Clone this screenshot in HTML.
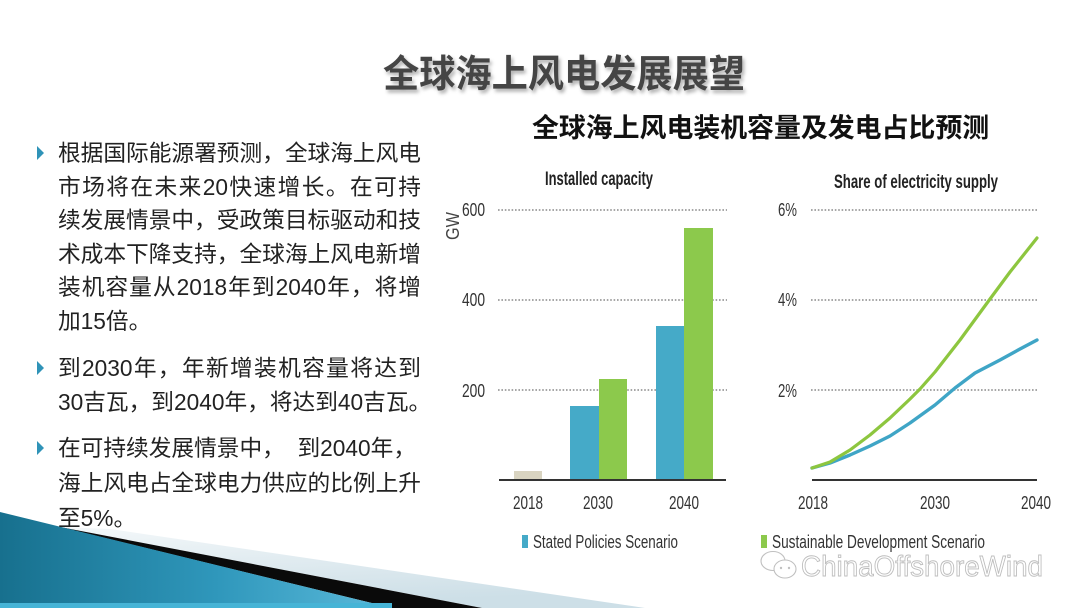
<!DOCTYPE html>
<html>
<head>
<meta charset="utf-8">
<style>
  html,body{margin:0;padding:0;background:#fff;}
  #wrap{position:relative;width:1080px;height:608px;overflow:hidden;background:#fff;}
  svg{position:absolute;left:0;top:0;}
  .sub{position:absolute;left:532px;top:111px;font-family:"Liberation Sans","Noto Sans CJK SC",sans-serif;font-weight:bold;font-size:26.9px;line-height:34px;color:#111;white-space:nowrap;}
  .ln{position:absolute;left:58px;font-family:"Liberation Sans","Noto Sans CJK SC",sans-serif;font-size:22.7px;line-height:34px;height:34px;color:#222;white-space:nowrap;}
  .j{width:363px;text-align:justify;text-align-last:justify;}
  .tri{position:absolute;left:37px;width:0;height:0;border-top:7px solid transparent;border-bottom:7px solid transparent;border-left:7px solid #2f93b8;}
</style>
</head>
<body>
<div id="wrap">
<svg width="1080" height="608" viewBox="0 0 1080 608" xmlns="http://www.w3.org/2000/svg">
  <defs>
    <linearGradient id="teal" x1="0" y1="0" x2="1" y2="0">
      <stop offset="0" stop-color="#17708e"/>
      <stop offset="0.55" stop-color="#2f97bb"/>
      <stop offset="1" stop-color="#5bbadb"/>
    </linearGradient>
    <linearGradient id="fade" x1="0" y1="0" x2="0.3" y2="1">
      <stop offset="0" stop-color="#f4f8fa"/>
      <stop offset="0.5" stop-color="#e0ebf0"/>
      <stop offset="1" stop-color="#cddfe7"/>
    </linearGradient>
    <filter id="sh" x="-10%" y="-30%" width="120%" height="160%">
      <feDropShadow dx="2" dy="3" stdDeviation="1.8" flood-color="#000" flood-opacity="0.3"/>
    </filter>
  </defs>

  <!-- main title -->
  <text x="383" y="87" font-family="'Liberation Sans','Noto Sans CJK SC',sans-serif" font-weight="bold" font-size="38" fill="#444" textLength="362" lengthAdjust="spacingAndGlyphs" filter="url(#sh)">全球海上风电发展展望</text>

  <!-- bottom-left decoration -->
  <polygon points="110,529 645,608 482,608 60,527" fill="url(#fade)"/>
  <polygon points="60,527 482,608 392,608" fill="#0a0a0a"/>
  <polygon points="0,512 392,608 0,608" fill="url(#teal)"/>
  <rect x="0" y="603" width="392" height="5" fill="#46b4d6"/>

  <!-- ===== Bar chart ===== -->
  <g font-family="'Liberation Sans Narrow','Liberation Sans',sans-serif">
    <text x="599" y="185" font-size="19" font-weight="bold" fill="#222" text-anchor="middle" textLength="108" lengthAdjust="spacingAndGlyphs">Installed capacity</text>
    <text transform="translate(459,226) rotate(-90)" font-size="18" fill="#444" text-anchor="middle" textLength="28" lengthAdjust="spacingAndGlyphs">GW</text>
    <g stroke="#8a8a8a" stroke-width="1.6" stroke-dasharray="1.6 1.8">
      <line x1="498" y1="210" x2="727" y2="210"/>
      <line x1="498" y1="300" x2="727" y2="300"/>
      <line x1="498" y1="390" x2="727" y2="390"/>
    </g>
    <g font-size="18" fill="#333" text-anchor="end">
      <text x="485" y="216" textLength="23" lengthAdjust="spacingAndGlyphs">600</text>
      <text x="485" y="306" textLength="23" lengthAdjust="spacingAndGlyphs">400</text>
      <text x="485" y="397" textLength="23" lengthAdjust="spacingAndGlyphs">200</text>
    </g>
    <rect x="514" y="471" width="28" height="9" fill="#d9d4c1"/>
    <rect x="570" y="406" width="29" height="74" fill="#45aac8"/>
    <rect x="599" y="379" width="28" height="101" fill="#8cc94c"/>
    <rect x="656" y="326" width="28" height="154" fill="#45aac8"/>
    <rect x="684" y="228" width="29" height="252" fill="#8cc94c"/>
    <line x1="499" y1="480" x2="726" y2="480" stroke="#333" stroke-width="2"/>
    <g font-size="18" fill="#333" text-anchor="middle">
      <text x="528" y="509" textLength="30" lengthAdjust="spacingAndGlyphs">2018</text>
      <text x="598" y="509" textLength="30" lengthAdjust="spacingAndGlyphs">2030</text>
      <text x="684" y="509" textLength="30" lengthAdjust="spacingAndGlyphs">2040</text>
    </g>
    <rect x="522" y="535" width="6" height="13" fill="#45aac8"/>
    <text x="533" y="548" font-size="18" fill="#333" textLength="145" lengthAdjust="spacingAndGlyphs">Stated Policies Scenario</text>
  </g>

  <!-- ===== Line chart ===== -->
  <g font-family="'Liberation Sans Narrow','Liberation Sans',sans-serif">
    <text x="916" y="188" font-size="19" font-weight="bold" fill="#222" text-anchor="middle" textLength="164" lengthAdjust="spacingAndGlyphs">Share of electricity supply</text>
    <g stroke="#8a8a8a" stroke-width="1.6" stroke-dasharray="1.6 1.8">
      <line x1="811" y1="210" x2="1037" y2="210"/>
      <line x1="811" y1="300" x2="1037" y2="300"/>
      <line x1="811" y1="390" x2="1037" y2="390"/>
    </g>
    <g font-size="18" fill="#333" text-anchor="end">
      <text x="797" y="216" textLength="19" lengthAdjust="spacingAndGlyphs">6%</text>
      <text x="797" y="306" textLength="19" lengthAdjust="spacingAndGlyphs">4%</text>
      <text x="797" y="397" textLength="19" lengthAdjust="spacingAndGlyphs">2%</text>
    </g>
    <line x1="812" y1="480" x2="1037" y2="480" stroke="#333" stroke-width="2"/>
    <g font-size="18" fill="#333" text-anchor="middle">
      <text x="813" y="509" textLength="30" lengthAdjust="spacingAndGlyphs">2018</text>
      <text x="935" y="509" textLength="30" lengthAdjust="spacingAndGlyphs">2030</text>
      <text x="1036" y="509" textLength="30" lengthAdjust="spacingAndGlyphs">2040</text>
    </g>
    <polyline fill="none" stroke="#3fa5c6" stroke-width="3.4" stroke-linejoin="round" stroke-linecap="round"
      points="812,468 830,463 850,455 870,446 890,436 910,423 935,405 955,388 975,373 1000,360 1020,349 1037,340"/>
    <polyline fill="none" stroke="#8dc63f" stroke-width="3.2" stroke-linejoin="round" stroke-linecap="round"
      points="812,468 830,462 850,450 870,435 890,418 910,399 920,389 935,372 960,340 990,299 1010,272 1037,238"/>
    <rect x="761" y="535" width="6" height="13" fill="#8cc94c"/>
    <text x="772" y="548" font-size="18" fill="#333" textLength="213" lengthAdjust="spacingAndGlyphs">Sustainable Development Scenario</text>
  </g>

  <!-- watermark -->
  <g fill="#fff" stroke="#c0c0c0" stroke-width="1.1">
    <ellipse cx="773" cy="561" rx="12" ry="9.5"/>
    <ellipse cx="785" cy="569" rx="11" ry="9"/>
  </g>
  <g fill="#c0c0c0">
    <circle cx="781" cy="568" r="1.2"/>
    <circle cx="789" cy="568" r="1.2"/>
  </g>
  <text x="801" y="576" font-family="'Liberation Sans',sans-serif" font-size="29" fill="#fff" stroke="#bdbdbd" stroke-width="0.9" textLength="242" lengthAdjust="spacingAndGlyphs">ChinaOffshoreWind</text>
</svg>

<div class="sub">全球海上风电装机容量及发电占比预测</div>

<div class="tri" style="top:146px;"></div>
<div class="ln j" style="top:136px;">根据国际能源署预测，全球海上风电</div>
<div class="ln j" style="top:170px;">市场将在未来20快速增长。在可持</div>
<div class="ln j" style="top:203px;">续发展情景中，受政策目标驱动和技</div>
<div class="ln j" style="top:237px;">术成本下降支持，全球海上风电新增</div>
<div class="ln j" style="top:270px;">装机容量从2018年到2040年，将增</div>
<div class="ln" style="top:304px;">加15倍。</div>

<div class="tri" style="top:361px;"></div>
<div class="ln j" style="top:351px;">到2030年，年新增装机容量将达到</div>
<div class="ln" style="top:385px;">30吉瓦，到2040年，将达到40吉瓦。</div>

<div class="tri" style="top:441px;"></div>
<div class="ln" style="top:431px;">在可持续发展情景中，&nbsp;&nbsp;到2040年，</div>
<div class="ln j" style="top:466px;">海上风电占全球电力供应的比例上升</div>
<div class="ln" style="top:501px;">至5%。</div>
</div>
</body>
</html>
